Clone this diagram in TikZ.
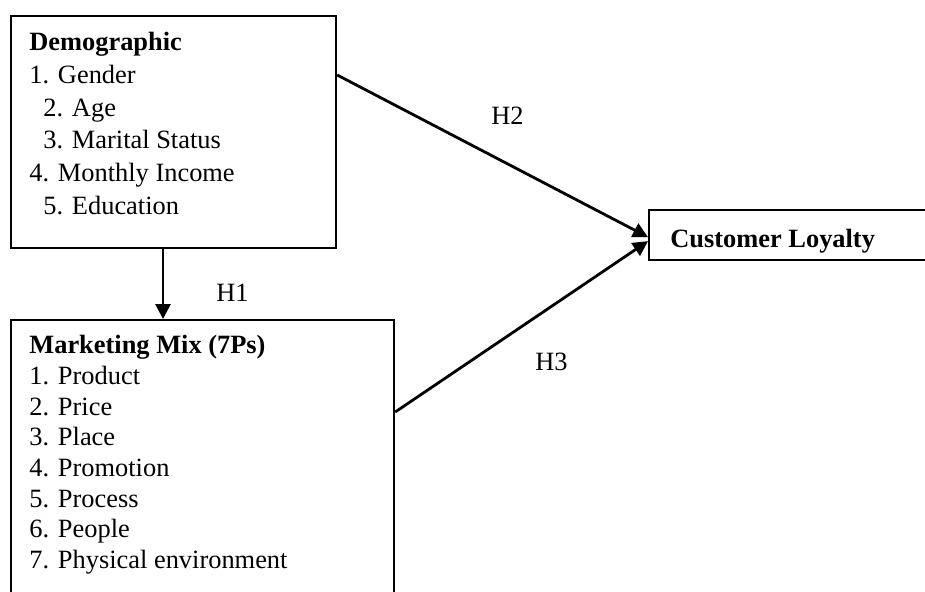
\documentclass[tikz,border=0pt]{standalone}
\usepackage{fontspec}
\setmainfont{Liberation Serif}
\usetikzlibrary{positioning,arrows.meta}
\tikzset{
  box/.style={rectangle,draw=black,line width=1.1pt,inner sep=0pt,anchor=north west},
  lst/.style={anchor=north west,inner sep=0pt,align=left},
  hyp/.style={anchor=base west,inner sep=0pt},
  flow/.style={-{Triangle[length=7.5pt,width=7.5pt]},line width=1.4pt},
}

\begin{document}
\begin{tikzpicture}[x=0.5pt,y=-0.5pt,font=\fontsize{13.2}{16}\selectfont]
  \clip (0,0) rectangle (925,591);
  % the three boxes (mix and loy run past the edge)
  \node[box,minimum width=162.5pt,minimum height=116pt] (demo) at (10,15) {};
  \node[box,minimum width=191.5pt,minimum height=165pt] (mix) at (10,319) {};
  \node[box,minimum width=160pt,minimum height=25pt] (loy) at (648,209) {};
  % box contents
  \node[lst,font=\fontsize{13.2}{16.35}\selectfont] (demotext) at (29,32)
       {\textbf{Demographic}\\ 1. Gender\\ \hspace*{7pt}2. Age\\ \hspace*{7pt}3. Marital Status\\
        4. Monthly Income\\ \hspace*{7pt}5. Education};
  \node[lst,font=\fontsize{13.2}{15.35}\selectfont] (mixtext) at (29,335)
       {\textbf{Marketing Mix (7Ps)}\\ 1. Product\\ 2. Price\\ 3. Place\\ 4. Promotion\\
        5. Process\\ 6. People\\ 7. Physical environment};
  \node[hyp,font=\fontsize{13.2}{16}\bfseries] (loytext) at (670,247) {Customer Loyalty};
  % hypotheses
  \coordinate (h1) at (163,0);
  \draw[flow] (demo.south -| h1) -- (mix.north -| h1);
  \draw[flow] ([yshift=-30pt]demo.north east) -- ([yshift=-1pt]loy.west);
  \draw[flow] ([yshift=-46.5pt]mix.north east) -- ([yshift=-3pt]loy.west);
  \node[hyp] (lh1) at (216,301) {H1};
  \node[hyp] (lh2) at (491,124) {H2};
  \node[hyp] (lh3) at (535,370) {H3};
\end{tikzpicture}
\end{document}
